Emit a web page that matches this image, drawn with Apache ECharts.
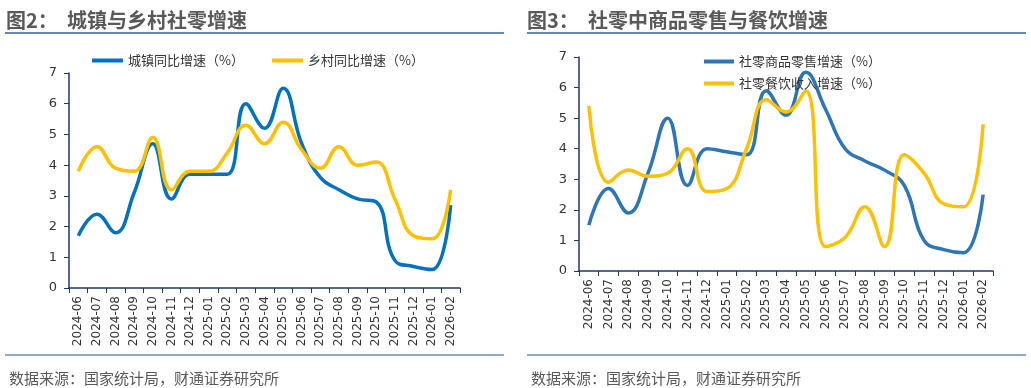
<!DOCTYPE html>
<html><head><meta charset="utf-8">
<script src="https://cdn.jsdelivr.net/npm/echarts@6/dist/echarts.min.js"></script>
<style>html,body{margin:0;padding:0;background:#fff}#c{width:1031px;height:388px}</style>
</head><body><div id="c"></div>
<script>
const categories = ['2024-06','2024-07','2024-08','2024-09','2024-10','2024-11','2024-12','2025-01','2025-02','2025-03','2025-04','2025-05','2025-06','2025-07','2025-08','2025-09','2025-10','2025-11','2025-12','2026-01','2026-02'];
const urban = [1.7,2.4,1.8,3.1,4.7,2.9,3.7,3.7,3.7,6.0,5.2,6.5,4.7,3.6,3.2,2.9,2.8,0.9,0.7,0.6,2.7];
const rural = [3.8,4.6,3.9,3.8,4.9,3.2,3.8,3.8,4.4,5.3,4.7,5.4,4.5,3.9,4.6,4.0,4.1,2.9,1.7,1.6,3.2];
const goods = [1.5,2.7,1.9,3.2,5.0,2.8,4.0,3.9,3.8,5.9,5.1,6.5,5.3,4.0,3.6,3.3,2.8,1.0,0.7,0.6,2.5];
const catering = [5.4,2.9,3.3,3.1,3.2,4.0,2.6,2.7,4.0,5.6,5.2,5.9,0.8,1.1,2.1,0.8,3.8,3.2,2.2,2.1,4.8];
const yTicks = [0,1,2,3,4,5,6,7];

const cjk = '"Noto Sans CJK SC", "Liberation Sans", sans-serif';
const axisColor = '#203864';
const labelColor = '#333333';

function xAxis(gi){
  return {type:'category', gridIndex:gi, data:categories, boundaryGap:true,
    axisLine:{lineStyle:{color:axisColor,width:1.5}},
    axisTick:{show:true, length:5, lineStyle:{color:axisColor}},
    axisLabel:{rotate:90, interval:0, color:labelColor, fontSize:12, fontFamily:'"DejaVu Sans", sans-serif', margin:8}};
}
function yAxis(gi){
  return {type:'value', gridIndex:gi, min:yTicks[0], max:yTicks[yTicks.length-1], interval:1,
    splitLine:{show:false},
    axisLine:{show:true, lineStyle:{color:axisColor,width:1.5}},
    axisTick:{show:true, length:5, lineStyle:{color:axisColor}},
    axisLabel:{color:labelColor, fontSize:13, fontFamily:'"DejaVu Sans", sans-serif', margin:12}};
}
function line(name, data, gi, color){
  return {name, type:'line', xAxisIndex:gi, yAxisIndex:gi, data, smooth:0.45, symbol:'none',
    lineStyle:{color, width:3.5}, itemStyle:{color}};
}

const chart = echarts.init(document.getElementById('c'), null, {renderer:'canvas'});
chart.setOption({
  animation:false,
  backgroundColor:'#fff',
  title:[
    {text:'图2：  城镇与乡村社零增速', left:1, top:5, textStyle:{fontSize:20, fontWeight:'bold', color:'#595959', fontFamily:cjk}},
    {text:'图3：  社零中商品零售与餐饮增速', left:522, top:5, textStyle:{fontSize:20, fontWeight:'bold', color:'#595959', fontFamily:cjk}},
    {text:'数据来源：国家统计局，财通证券研究所', left:4, top:366, textStyle:{fontSize:15, fontWeight:'normal', color:'#595959', fontFamily:cjk}},
    {text:'数据来源：国家统计局，财通证券研究所', left:526, top:366, textStyle:{fontSize:15, fontWeight:'normal', color:'#595959', fontFamily:cjk}}
  ],
  graphic:[
    {type:'line', shape:{x1:5,y1:33,x2:504,y2:33}, style:{stroke:'#2F5E9E', lineWidth:1.5}},
    {type:'line', shape:{x1:527,y1:33,x2:1026,y2:33}, style:{stroke:'#2F5E9E', lineWidth:1.5}},
    {type:'line', shape:{x1:5,y1:355,x2:504,y2:355}, style:{stroke:'#8EA9D1', lineWidth:2}},
    {type:'line', shape:{x1:527,y1:355,x2:1026,y2:355}, style:{stroke:'#8EA9D1', lineWidth:2}}
  ],
  legend:[
    {data:['城镇同比增速（%）','乡村同比增速（%）'], icon:'rect', left:87, top:49, itemWidth:31, itemHeight:4, itemGap:28,
      textStyle:{fontSize:13, color:'#333', fontFamily:cjk}},
    {data:['社零商品零售增速（%）','社零餐饮收入增速（%）'], icon:'rect', orient:'vertical', left:699, top:50, itemWidth:30, itemHeight:4, itemGap:9,
      textStyle:{fontSize:13, color:'#333', fontFamily:cjk}}
  ],
  grid:[
    {left:69, right:571, top:73, bottom:100},
    {left:579, right:38, top:57, bottom:117}
  ],
  xAxis:[xAxis(0), xAxis(1)],
  yAxis:[yAxis(0), yAxis(1)],
  series:[
    line('城镇同比增速（%）', urban, 0, '#0070C0'),
    line('乡村同比增速（%）', rural, 0, '#FFC000'),
    line('社零商品零售增速（%）', goods, 1, '#2E75B6'),
    line('社零餐饮收入增速（%）', catering, 1, '#FFC000')
  ]
});
</script></body></html>
